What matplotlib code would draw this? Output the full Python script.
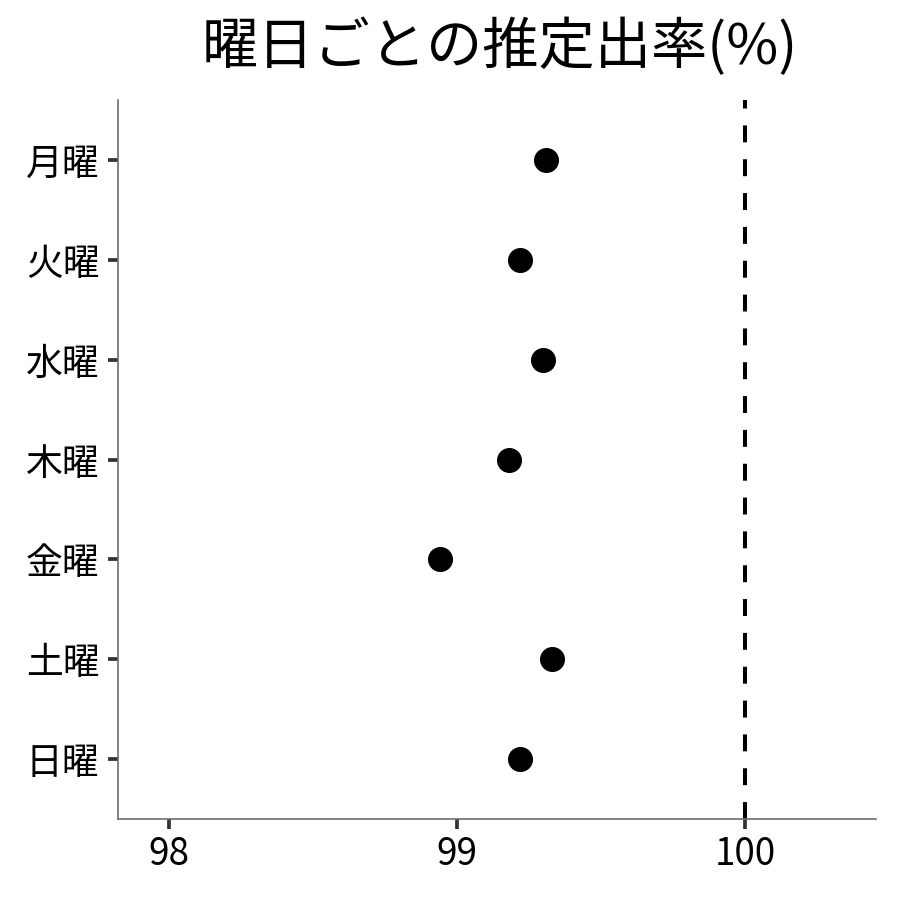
import matplotlib
matplotlib.use("Agg")
import matplotlib.pyplot as plt

plt.rcParams['font.family'] = ['Noto Sans CJK JP', 'DejaVu Sans']

days = ["月曜", "火曜", "水曜", "木曜", "金曜", "土曜", "日曜"]
rates = [99.31, 99.22, 99.30, 99.18, 98.94, 99.33, 99.22]
xticks = [98, 99, 100]
ref_value = 100
title = "曜日ごとの推定出率(%)"

fig = plt.figure(figsize=(9, 9), dpi=100)
ax = fig.add_axes([118/900, 1 - 819/900, (876-118)/900, (819-100)/900])

ypos = list(range(len(days)))[::-1]
ax.axvline(ref_value, color='black', lw=2.9, linestyle=(0, (4.2, 4.2)), zorder=1)
ax.plot(rates, ypos, 'o', color='black', markersize=17, zorder=3, linestyle='none')

ax.set_xlim(97.823, 100.455)
ax.set_ylim(-0.6, len(days) - 0.4)
ax.set_xticks(xticks)
ax.set_xticklabels([str(v) for v in xticks])
ax.set_yticks(ypos)
ax.set_yticklabels(days)

for s in ['top', 'right']:
    ax.spines[s].set_visible(False)
for s in ['left', 'bottom']:
    ax.spines[s].set_color('#6e6e6e')
    ax.spines[s].set_linewidth(1.2)

ax.tick_params(axis='both', which='major', length=7.5, width=2.7, color='#333333',
               labelsize=26.5, labelcolor='black')
ax.tick_params(axis='y', pad=6)
ax.tick_params(axis='x', pad=4)

fig.text((118+876)/2/900 + 0.003, 1 - 48/900, title, ha='center', va='center', fontsize=40.5)

fig.savefig("out.png", dpi=100, facecolor='white')
